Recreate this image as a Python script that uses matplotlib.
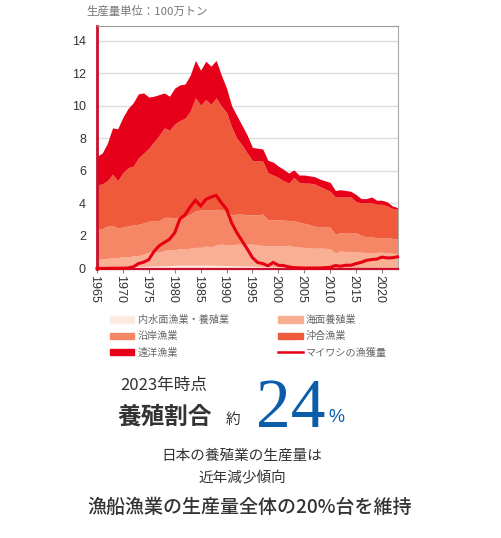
import numpy as np
import matplotlib
matplotlib.use('Agg')
import matplotlib.pyplot as plt
from matplotlib.patches import Patch
from matplotlib.lines import Line2D
from matplotlib.transforms import ScaledTranslation

JP = ['Noto Sans CJK JP', 'DejaVu Sans']
plt.rcParams['font.family'] = JP

years = np.arange(1965, 2024)

# boundaries (cumulative, million tons)
inland_top = [.05,.06,.07,.08,.09,.1,.1,.11,.12,.13,
              .14,.15,.16,.17,.18,.2,.2,.2,.2,.2,
              .2,.2,.2,.19,.19,.18,.18,.17,.16,.15,
              .14,.13,.12,.11,.1,.1,.1,.09,.09,.09,
              .08,.08,.08,.07,.07,.07,.07,.06,.06,.06,
              .06,.06,.06,.06,.06,.06,.05,.05,.05]
marine_top = [.55,.58,.62,.65,.68,.72,.72,.78,.8,.88,
              1.0,1.05,1.0,1.12,1.15,1.15,1.22,1.2,1.25,1.3,
              1.3,1.38,1.33,1.45,1.5,1.45,1.45,1.5,1.5,1.5,
              1.5,1.45,1.42,1.4,1.4,1.4,1.4,1.43,1.35,1.32,
              1.3,1.28,1.25,1.25,1.25,1.2,.95,1.08,1.05,1.05,
              1.05,1.0,.95,.95,1.0,1.0,.98,.95,.92]
coastal_top = [2.4,2.45,2.6,2.65,2.5,2.55,2.62,2.68,2.72,2.8,
               2.9,2.95,2.95,3.15,3.15,3.1,3.2,3.2,3.35,3.55,
               3.6,3.6,3.6,3.65,3.6,3.55,3.3,3.35,3.35,3.3,
               3.3,3.3,3.35,3.0,3.0,3.0,2.98,2.95,2.93,2.85,
               2.78,2.7,2.6,2.58,2.55,2.54,2.1,2.2,2.22,2.2,
               2.2,2.05,1.95,1.95,1.9,1.9,1.9,1.85,1.8]
offshore_top = [5.15,5.2,5.4,5.8,5.4,5.9,6.2,6.3,6.8,7.1,
                7.4,7.8,8.2,8.65,8.5,8.9,9.1,9.25,9.7,10.5,
                10.05,10.4,10.1,10.5,10.0,9.6,8.7,8.0,7.6,7.1,
                6.63,6.63,6.6,5.9,5.75,5.6,5.4,5.25,5.6,5.3,
                5.25,5.25,5.2,5.05,4.9,4.75,4.4,4.4,4.4,4.4,
                4.1,4.05,4.05,4.05,3.95,3.95,3.85,3.7,3.65]
distant_top = [6.9,7.1,7.7,8.65,8.6,9.3,9.85,10.2,10.75,10.8,
               10.55,10.6,10.7,10.8,10.6,11.1,11.3,11.35,11.9,12.8,
               12.2,12.75,12.45,12.8,11.9,11.1,10.0,9.4,8.8,8.2,
               7.45,7.4,7.35,6.65,6.55,6.3,6.1,5.87,6.07,5.75,
               5.75,5.7,5.65,5.5,5.4,5.3,4.8,4.85,4.8,4.75,
               4.55,4.3,4.3,4.4,4.2,4.2,4.1,3.85,3.75]
sardine = [.01,.01,.01,.02,.02,.02,.03,.1,.3,.39,
           .55,1.05,1.4,1.6,1.8,2.2,3.05,3.3,3.8,4.2,
           3.85,4.25,4.4,4.5,4.05,3.65,2.8,2.2,1.7,1.2,
           .67,.37,.3,.17,.37,.2,.18,.1,.05,.04,
           .03,.03,.03,.03,.05,.07,.18,.14,.2,.2,
           .3,.38,.5,.55,.58,.7,.65,.66,.72]

layers = [inland_top, marine_top, coastal_top, offshore_top, distant_top]
layer_names = ['内水面漁業・養殖業', '海面養殖業', '沿岸漁業', '沖合漁業', '遠洋漁業']
layer_colors = ['#FDEAE1', '#F8AF94', '#F58766', '#EE5A3A', '#E60019']
line_color = '#E60012'

W, H = 502, 538
fig = plt.figure(figsize=(W / 100, H / 100), dpi=100)
ax = fig.add_axes([97 / W, 1 - 268.5 / H, 301 / W, 243 / H])


def put(x, y, s, **kw):
    # pixel position in the reference image
    kw.setdefault('va', 'center')
    kw.setdefault('color', '#333333')
    fig.text(x / W, 1 - y / H, s, **kw)


lower = np.zeros(len(years))
for top, c in zip(layers, layer_colors):
    ax.fill_between(years, lower, top, color=c, lw=0, zorder=2)
    lower = np.array(top)
ax.plot(years, sardine, color=line_color, lw=2.2, zorder=3, clip_on=False, solid_joinstyle='miter')

ax.set_xlim(1965, 2023.1)
ax.set_ylim(0, 14.95)
ax.set_yticks(range(0, 15, 2))
ax.set_xticks(range(1965, 2021, 5))
ax.grid(axis='y', color='#dddddd', lw=1, zorder=0)
ax.set_axisbelow(True)
ax.tick_params(axis='y', length=0, pad=8, labelsize=9, labelcolor='#333333')
ax.tick_params(axis='x', length=3, width=0.8, color='#888888', pad=2, labelsize=9, labelcolor='#333333')
shift = ScaledTranslation(-3 / 100, 0, fig.dpi_scale_trans)
for lab in ax.get_xticklabels():
    lab.set_rotation(270)
    lab.set_family('Liberation Sans')
    lab.set_transform(lab.get_transform() + shift)
for lab in ax.get_yticklabels():
    lab.set_family('Liberation Sans')
ax.spines['left'].set_color('#C8102E')
ax.spines['left'].set_linewidth(2)
ax.spines['bottom'].set_color('#C8102E')
ax.spines['bottom'].set_linewidth(1.6)
ax.spines['top'].set_color('#999999')
ax.spines['right'].set_color('#aaaaaa')

put(86, 11.5, '生産量単位：100万トン', fontsize=8.2, color='#777777')

# legend, filled by column
handles = [Patch(color=layer_colors[0], label=layer_names[0]),
           Patch(color=layer_colors[2], label=layer_names[2]),
           Patch(color=layer_colors[4], label=layer_names[4]),
           Patch(color=layer_colors[1], label=layer_names[1]),
           Patch(color=layer_colors[3], label=layer_names[3]),
           Line2D([0], [0], color=line_color, lw=1.8, label='マイワシの漁獲量')]
fig.legend(handles=handles, ncol=2, frameon=False, fontsize=7.3, labelcolor='#666666',
           loc='upper left', bbox_to_anchor=(110 / W, 1 - 315 / H), borderaxespad=0, borderpad=0,
           handlelength=2.4, handleheight=0.6, handletextpad=0.35, labelspacing=0.62, columnspacing=4.85)

put(120, 385.5, '2023年時点', fontsize=12)
put(118, 417, '養殖割合', fontsize=17, fontweight='bold')
put(226, 420, '約', fontsize=10.5)
put(256, 410, '24', fontsize=50, family='Liberation Serif', color='#0B5CAB')
put(328, 417, '%', fontsize=13, family='Liberation Sans', color='#0B5CAB')
put(242, 456, '日本の養殖業の生産量は', fontsize=10.5, ha='center')
put(242, 478, '近年減少傾向', fontsize=10.5, ha='center')
put(250, 507, '漁船漁業の生産量全体の20%台を維持', fontsize=13.7, ha='center', fontweight='medium')

fig.savefig('out.png', dpi=100)
